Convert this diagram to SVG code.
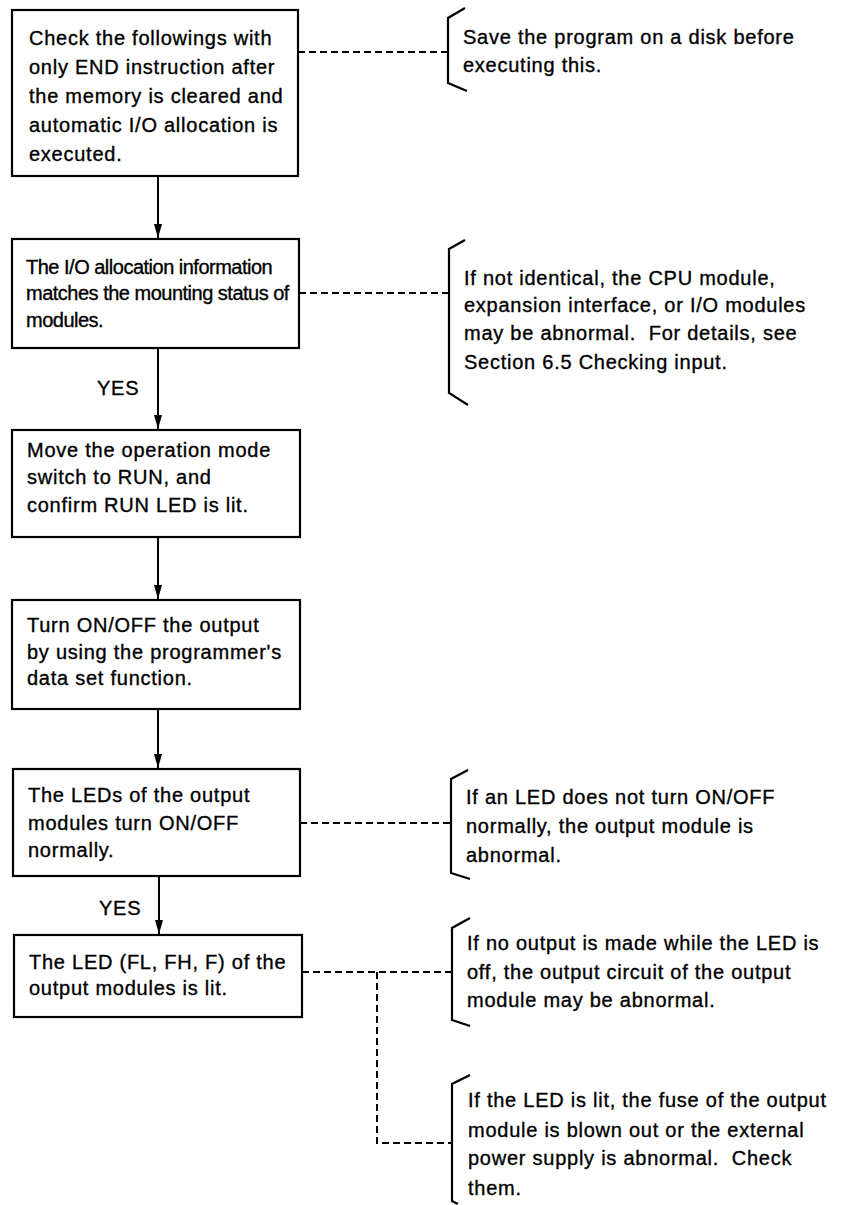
<svg xmlns="http://www.w3.org/2000/svg" width="846" height="1205" viewBox="0 0 846 1205">
<defs>
<style>
.box{fill:#fff;stroke:#000;stroke-width:2.2}
.t{font-family:"Liberation Sans",Arial,sans-serif;font-size:20px;letter-spacing:0.75px;fill:#000;stroke:#000;stroke-width:0.35}
.tc{letter-spacing:-0.5px}
.arrow{stroke:#000;stroke-width:2;fill:none;marker-end:url(#ah)}
.dash{stroke:#000;stroke-width:2;fill:none;stroke-dasharray:7 4}
.br{stroke:#000;stroke-width:2.2;fill:none}
</style>
<marker id="ah" viewBox="0 0 14 8" refX="14" refY="4" markerWidth="14" markerHeight="8" markerUnits="userSpaceOnUse" orient="auto">
<path d="M0,0 L14,4 L0,8 z" fill="#000"/>
</marker>
</defs>
<rect width="846" height="1205" fill="#fff"/>
<g id="connectors">
<line class="arrow" x1="158" y1="176" x2="158" y2="238"/>
<line class="arrow" x1="158" y1="348" x2="158" y2="429"/>
<line class="arrow" x1="158" y1="537" x2="158" y2="599"/>
<line class="arrow" x1="158" y1="709" x2="158" y2="768"/>
<line class="arrow" x1="159" y1="876" x2="159" y2="934"/>
<line class="dash" x1="298" y1="52" x2="448" y2="52"/>
<line class="dash" x1="299" y1="293" x2="449" y2="293"/>
<line class="dash" x1="300" y1="823" x2="451" y2="823"/>
<line class="dash" x1="302" y1="972" x2="452" y2="972"/>
<polyline class="dash" points="377,972 377,1143 452,1143"/>
<text class="t" x="97" y="395" letter-spacing="0">YES</text>
<text class="t" x="99" y="915" letter-spacing="0">YES</text>
</g>
<g id="n1">
<rect class="box" x="12" y="10" width="286" height="166"/>
<text class="t" x="29" y="45">Check the followings with</text>
<text class="t" x="29" y="74">only END instruction after</text>
<text class="t" x="29" y="103">the memory is cleared and</text>
<text class="t" x="29" y="132">automatic I/O allocation is</text>
<text class="t" x="29" y="161">executed.</text>
</g>
<g id="n2">
<rect class="box" x="12" y="239" width="287" height="109"/>
<text class="t tc" x="26" y="274">The I/O allocation information</text>
<text class="t tc" x="26" y="300">matches the mounting status of</text>
<text class="t tc" x="26" y="327">modules.</text>
</g>
<g id="n3">
<rect class="box" x="12" y="430" width="288" height="107"/>
<text class="t" x="27" y="457">Move the operation mode</text>
<text class="t" x="27" y="484">switch to RUN, and</text>
<text class="t" x="27" y="512">confirm RUN LED is lit.</text>
</g>
<g id="n4">
<rect class="box" x="12" y="600" width="288" height="109"/>
<text class="t" x="27" y="632">Turn ON/OFF the output</text>
<text class="t" x="27" y="659">by using the programmer's</text>
<text class="t" x="27" y="685">data set function.</text>
</g>
<g id="n5">
<rect class="box" x="13" y="769" width="287" height="107"/>
<text class="t" x="28" y="802">The LEDs of the output</text>
<text class="t" x="28" y="830">modules turn ON/OFF</text>
<text class="t" x="28" y="857">normally.</text>
</g>
<g id="n6">
<rect class="box" x="14" y="935" width="288" height="82"/>
<text class="t" x="29" y="969">The LED (FL, FH, F) of the</text>
<text class="t" x="29" y="995">output modules is lit.</text>
</g>
<g id="c1">
<path class="br" d="M465,8 L448,18 L448,83 L467,91"/>
<text class="t" x="463" y="44">Save the program on a disk before</text>
<text class="t" x="463" y="72">executing this.</text>
</g>
<g id="c2">
<path class="br" d="M465,240 L449,249 L449,393 L468,405"/>
<text class="t" x="464" y="285">If not identical, the CPU module,</text>
<text class="t" x="464" y="312">expansion interface, or I/O modules</text>
<text class="t" x="464" y="340">may be abnormal.&#160; For details, see</text>
<text class="t" x="464" y="369">Section 6.5 Checking input.</text>
</g>
<g id="c3">
<path class="br" d="M468,770 L451,779 L451,873 L470,879"/>
<text class="t" x="466" y="804">If an LED does not turn ON/OFF</text>
<text class="t" x="466" y="833">normally, the output module is</text>
<text class="t" x="466" y="862">abnormal.</text>
</g>
<g id="c4">
<path class="br" d="M470,918 L452,928 L452,1020 L470,1026"/>
<text class="t" x="467" y="950">If no output is made while the LED is</text>
<text class="t" x="467" y="979">off, the output circuit of the output</text>
<text class="t" x="467" y="1007">module may be abnormal.</text>
</g>
<g id="c5">
<path class="br" d="M470,1075 L452,1084 L452,1201 L458,1204"/>
<text class="t" x="468" y="1107">If the LED is lit, the fuse of the output</text>
<text class="t" x="468" y="1137">module is blown out or the external</text>
<text class="t" x="468" y="1165">power supply is abnormal.&#160; Check</text>
<text class="t" x="468" y="1195">them.</text>
</g>
</svg>
